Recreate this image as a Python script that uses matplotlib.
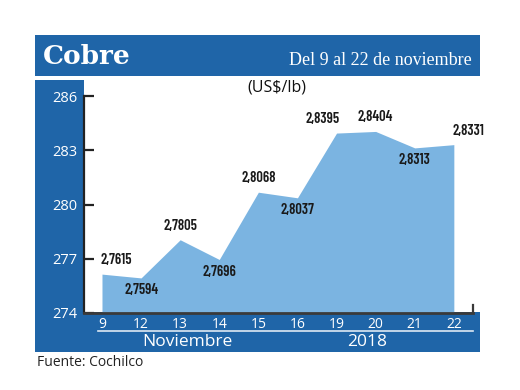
import matplotlib
matplotlib.use('Agg')
import matplotlib.pyplot as plt
from matplotlib.patches import Rectangle
from matplotlib.lines import Line2D

# ---- data ----
dias = ['9', '12', '13', '14', '15', '16', '19', '20', '21', '22']
precios = [276.15, 275.94, 278.05, 276.96, 280.68, 280.37, 283.95, 284.04, 283.13, 283.31]
etiquetas = ['2,7615', '2,7594', '2,7805', '2,7696', '2,8068', '2,8037',
             '2,8395', '2,8404', '2,8313', '2,8331']
yticks = [274, 277, 280, 283, 286]
titulo = 'Cobre'
subtitulo = 'Del 9 al 22 de noviembre'
unidad = '(US$/lb)'
mes = 'Noviembre'
anio = '2018'
fuente = 'Fuente: Cochilco'

# label placement style (above / below, horizontal alignment)
lab_pos = ['above', 'below', 'above', 'below', 'above', 'below', 'above', 'above', 'below', 'above']
lab_ha = ['left', 'center', 'center', 'center', 'center', 'center', 'right', 'center', 'center', 'left']

SANS = ['Open Sans', 'DejaVu Sans']
COND = ['Barlow Condensed', 'Archivo Narrow', 'DejaVu Sans']

W, H = 520, 390
BLUE = '#1f65a8'
LIGHT = '#7bb4e1'
fig = plt.figure(figsize=(W / 100, H / 100), dpi=100)
fig.patch.set_facecolor('white')

def fx(px):
    return px / W

def fy(py):
    return 1 - py / H

def rect(x0, y0, x1, y1, color):
    fig.patches.append(Rectangle((fx(x0), fy(y1)), (x1 - x0) / W, (y1 - y0) / H,
                                 transform=fig.transFigure, facecolor=color,
                                 edgecolor='none', zorder=-5))

rect(35, 35, 480, 76, BLUE)      # title bar
rect(35, 80, 84, 352, BLUE)      # left band
rect(35, 312, 480, 352, BLUE)    # bottom band

ax = fig.add_axes([fx(84), fy(313), (473 - 84) / W, (313 - 96) / H])
ax.set_zorder(2)
ax.set_facecolor('none')
x = list(range(len(dias)))
ax.fill_between(x, precios, yticks[0], color=LIGHT, lw=0, zorder=1)
ax.set_ylim(yticks[0], yticks[-1])
ax.set_xlim(-0.46, len(dias) - 1 + 0.49)

for s in ['top', 'right']:
    ax.spines[s].set_visible(False)
ax.spines['left'].set_color('#222222')
ax.spines['left'].set_linewidth(1.6)
ax.spines['bottom'].set_color('#3a3a3a')
ax.spines['bottom'].set_linewidth(2.0)

ax.set_yticks(yticks)
ax.set_yticklabels([str(v) for v in yticks])
ax.tick_params(axis='y', direction='in', length=7, width=1.6, color='#222222',
               labelcolor='white', labelsize=10.5, pad=5)
ax.set_xticks(x)
ax.set_xticklabels(dias)
ax.tick_params(axis='x', length=0, labelcolor='white', labelsize=10, pad=3)
for lab in ax.get_xticklabels() + ax.get_yticklabels():
    lab.set_family(SANS)

# small right tick at bottom
ax.add_line(Line2D([1, 1], [0, 0.035], transform=ax.transAxes, color='#3a3a3a',
                   lw=1.6, clip_on=False))

for i, (v, t) in enumerate(zip(precios, etiquetas)):
    if lab_pos[i] == 'above':
        off = 5
        va = 'bottom'
    else:
        off = -4
        va = 'top'
    xo = {'left': -1, 'center': 0, 'right': 2}[lab_ha[i]]
    ax.annotate(t, (i, v), xytext=(xo, off), textcoords='offset points',
                ha=lab_ha[i], va=va, fontsize=10.5, fontweight=600,
                family=COND, color='#1a1a1a', zorder=3)

# title texts
fig.text(fx(43), fy(64), titulo, family='DejaVu Serif', fontweight='bold',
         fontsize=19, color='white', va='baseline', ha='left')
fig.text(fx(472), fy(65), subtitulo, family='Liberation Serif', fontsize=13,
         color='white', va='baseline', ha='right')
fig.text(fx(277), fy(87), unidad, family=SANS, fontsize=11.5,
         color='#111111', va='center', ha='center')

# bottom band details
fig.add_artist(Line2D([fx(98), fx(473)], [fy(331), fy(331)], color='#dde8f3', lw=1.2))
fig.text(fx(187), fy(342), mes, family=SANS, fontsize=12.5, color='white',
         va='center', ha='center')
fig.text(fx(367), fy(342), anio, family=SANS, fontsize=12.5, color='white',
         va='center', ha='center')
fig.text(fx(37), fy(363), fuente, family=SANS, fontsize=10, color='#222222',
         va='center', ha='left')

fig.savefig('out.png', dpi=100)
